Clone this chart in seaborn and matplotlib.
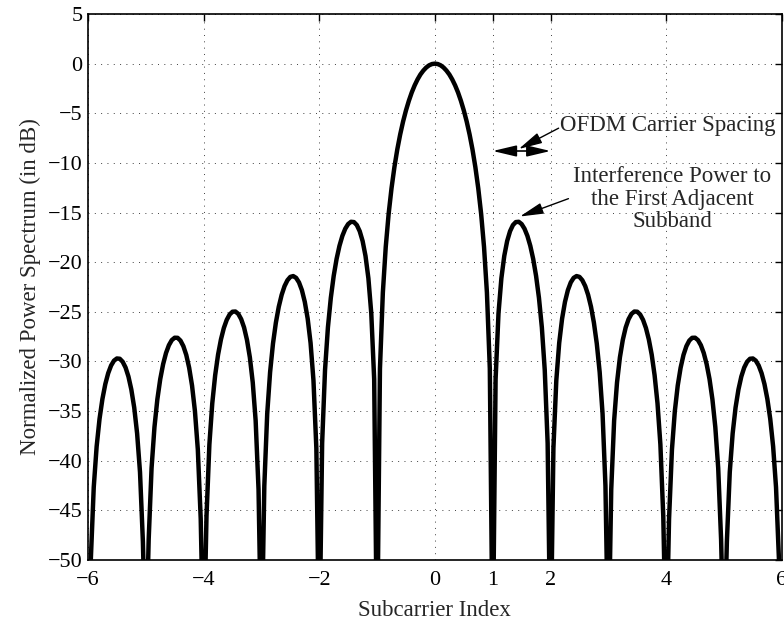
import numpy as np
import pandas as pd
import matplotlib
matplotlib.use('Agg')
import matplotlib.pyplot as plt
import seaborn as sns

# ------------------------------------------------------------------
# Data (normalized power spectrum in dB)
# sampled every 0.05 of a subcarrier index; nulls drop below the axis
# ------------------------------------------------------------------
subcarrier_index = np.linspace(-6, 6, 241)

power_db_left = [
    -60,
    -49.86, -42.67, -38.57, -35.79, -33.78, -32.28, -31.18, -30.41, -29.92, -29.70,
    -29.73, -30.03, -30.61, -31.52, -32.83, -34.65, -37.25, -41.15, -48.15,
    -60,
    -47.94, -40.74, -36.62, -33.82, -31.78, -30.27, -29.15, -28.36, -27.85, -27.61,
    -27.62, -27.90, -28.46, -29.34, -30.63, -32.43, -35.00, -38.88, -45.85,
    -60,
    -45.59, -38.36, -34.21, -31.39, -29.32, -27.78, -26.63, -25.81, -25.27, -24.99,
    -24.97, -25.21, -25.74, -26.58, -27.83, -29.59, -32.12, -35.96, -42.89,
    -60,
    -42.54, -35.27, -31.08, -28.20, -26.09, -24.49, -23.29, -22.41, -21.82, -21.48,
    -21.40, -21.58, -22.04, -22.82, -24.00, -25.69, -28.14, -31.91, -38.75,
    -60,
    -38.23, -30.86, -26.57, -23.60, -21.38, -19.67, -18.35, -17.35, -16.63, -16.16,
    -15.93, -15.96, -16.26, -16.88, -17.87, -19.37, -21.62, -25.17, -31.78,
    -60,
    -30.73, -23.07, -18.47, -15.14, -12.55, -10.42, -8.64, -7.13, -5.83, -4.71,
    -3.74, -2.90, -2.19, -1.59, -1.09, -0.70, -0.39, -0.17, -0.04,
]

power_db_right = [
    0.00,
    -0.04, -0.17, -0.39, -0.70, -1.09, -1.59, -2.19, -2.90, -3.74, -4.71,
    -5.83, -7.13, -8.64, -10.42, -12.55, -15.14, -18.47, -23.07, -30.73,
    -60,
    -31.78, -25.17, -21.62, -19.37, -17.87, -16.88, -16.26, -15.96, -15.93, -16.16,
    -16.63, -17.35, -18.35, -19.67, -21.38, -23.60, -26.57, -30.86, -38.23,
    -60,
    -38.75, -31.91, -28.14, -25.69, -24.00, -22.82, -22.04, -21.58, -21.40, -21.48,
    -21.82, -22.41, -23.29, -24.49, -26.09, -28.20, -31.08, -35.27, -42.54,
    -60,
    -42.89, -35.96, -32.12, -29.59, -27.83, -26.58, -25.74, -25.21, -24.97, -24.99,
    -25.27, -25.81, -26.63, -27.78, -29.32, -31.39, -34.21, -38.36, -45.59,
    -60,
    -45.85, -38.88, -35.00, -32.43, -30.63, -29.34, -28.46, -27.90, -27.62, -27.61,
    -27.85, -28.36, -29.15, -30.27, -31.78, -33.82, -36.62, -40.74, -47.94,
    -60,
    -48.15, -41.15, -37.25, -34.65, -32.83, -31.52, -30.61, -30.03, -29.73, -29.70,
    -29.92, -30.41, -31.18, -32.28, -33.78, -35.79, -38.57, -42.67, -49.86,
    -60,
]

x_ticks = [-6, -4, -2, 0, 1, 2, 4, 6]
y_ticks = list(range(-50, 6, 5))

df = pd.DataFrame({'index': subcarrier_index,
                   'power': power_db_left + power_db_right})

# ------------------------------------------------------------------
# Plot
# ------------------------------------------------------------------
sns.set_style('white')
plt.rcParams['font.family'] = ['Liberation Serif', 'DejaVu Serif']

fig = plt.figure(figsize=(7.84, 6.2), dpi=100)
ax = fig.add_axes([0.1122, 0.0968, 0.885, 0.8806])

sns.lineplot(data=df, x='index', y='power', color='black', linewidth=3.2,
             ax=ax, sort=False, estimator=None)

ax.set_xlim(-6, 6)
ax.set_ylim(-50, 5)
ax.set_xticks(x_ticks)
ax.set_yticks(y_ticks)
ax.set_xticklabels([f'{t}'.replace('-', '\u2212') for t in x_ticks])
ax.set_yticklabels([f'{t}'.replace('-', '\u2212') for t in y_ticks])
ax.tick_params(direction='in', top=True, right=True, length=5, width=1,
               labelsize=16, colors='black')
ax.tick_params(axis='x', pad=8)
ax.tick_params(axis='y', pad=4)
ax.grid(True, color='0.25', linewidth=0.7, linestyle=(0, (1, 5.5)))
for s in ax.spines.values():
    s.set_color('black')
    s.set_linewidth(1.2)

ax.set_xlabel('Subcarrier Index', fontsize=16.5, labelpad=7)
ax.set_ylabel('Normalized Power Spectrum (in dB)', fontsize=16.5, labelpad=5)

arrow_head = '-|>,head_length=0.72,head_width=0.17'
both_heads = '<|-|>,head_length=0.72,head_width=0.17'

# carrier spacing double arrow
ax.annotate('', xy=(1.0, -8.8), xytext=(2.0, -8.8),
            arrowprops=dict(arrowstyle=both_heads, color='black', lw=1.2,
                            mutation_scale=20, shrinkA=0, shrinkB=0))
ax.annotate('', xy=(1.45, -8.6), xytext=(2.14, -6.5),
            arrowprops=dict(arrowstyle=arrow_head, color='black', lw=1.0,
                            mutation_scale=20, shrinkA=0, shrinkB=0))
ax.text(2.16, -6.25, 'OFDM Carrier Spacing', fontsize=16.5, ha='left', va='center')

# first sidelobe interference
ax.annotate('', xy=(1.47, -15.4), xytext=(2.31, -13.6),
            arrowprops=dict(arrowstyle=arrow_head, color='black', lw=1.0,
                            mutation_scale=20, shrinkA=0, shrinkB=0))
ax.text(4.1, -13.65, 'Interference Power to\nthe First Adjacent\nSubband',
        fontsize=16.5, ha='center', va='center', multialignment='center',
        linespacing=1.1)

plt.savefig('out.png', dpi=100)
plt.close()
